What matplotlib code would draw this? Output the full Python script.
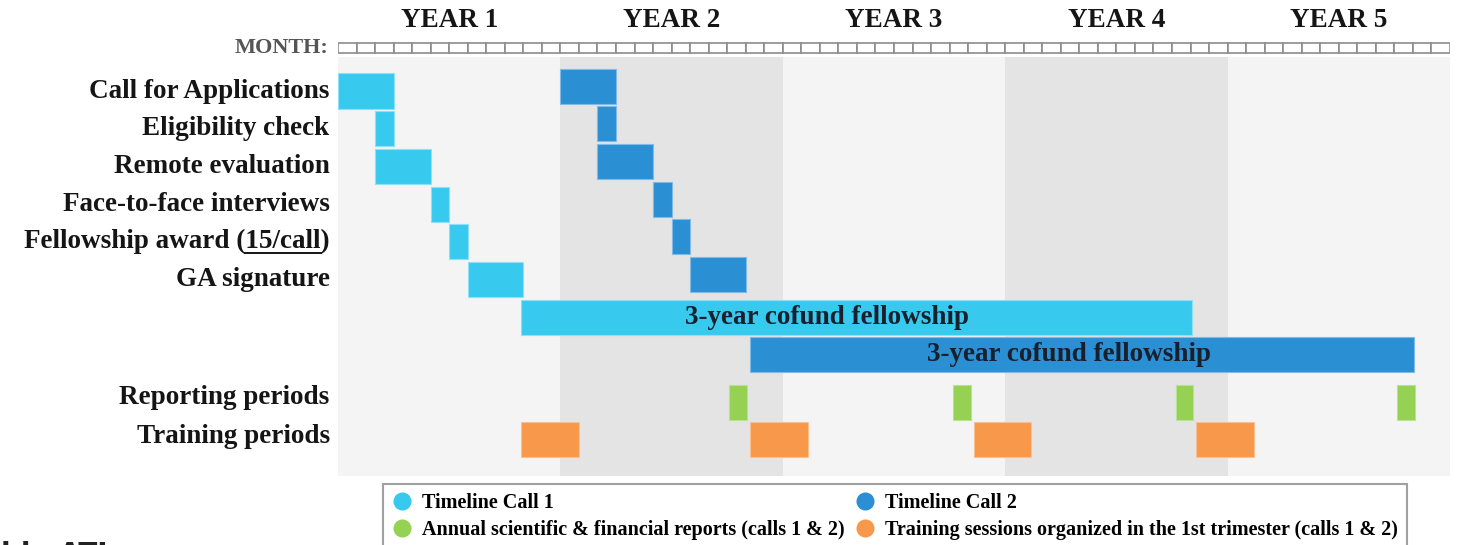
import numpy as np
import matplotlib.pyplot as plt
from matplotlib.patches import Rectangle
from matplotlib.lines import Line2D

# Daten (Monate ab Projektstart)
tasks = ["Call for Applications", "Eligibility check", "Remote evaluation",
         "Face-to-face interviews", "Fellowship award (15/call)", "GA signature"]
call1_start = [0, 2, 2, 5, 6, 7]
call1_dur = [3, 1, 3, 1, 1, 3]
call2_start = [12, 14, 14, 17, 18, 19]
call2_dur = [3, 1, 3, 1, 1, 3]

fellow_start = [9.9, 22.25]
fellow_dur = [36.2, 35.8]
fellow_text = "3-year cofund fellowship"

report_start = [21.1, 33.2, 45.2, 57.15]
report_dur = [0.95, 0.95, 0.95, 0.95]
training_start = [9.9, 22.25, 34.3, 46.3]
training_dur = [3.1, 3.1, 3.1, 3.1]

years = ["YEAR 1", "YEAR 2", "YEAR 3", "YEAR 4", "YEAR 5"]
n_months = 60

legend_labels = ["Timeline Call 1", "Annual scientific & financial reports (calls 1 & 2)",
                 "Timeline Call 2", "Training sessions organized in the 1st trimester (calls 1 & 2)"]

c1 = "#38c9ef"
c2 = "#2b8fd4"
cg = "#95d152"
co = "#f7984a"

plt.rcParams['font.family'] = ['Liberation Serif', 'DejaVu Serif']
plt.rcParams['font.weight'] = 'bold'

fs_lab = 19.5  # Schriftgroesse Zeilenbeschriftung

fig = plt.figure(figsize=(14.63, 5.45), dpi=100)
ax = fig.add_axes([338/1463, 1-480/545, 1112/1463, 480/545])
ax.set_xlim(0, n_months)
ax.set_ylim(10.318, -2.414)
ax.axis('off')

# Hintergrund pro Jahr
for i in range(5):
    ax.add_patch(Rectangle((12*i, -0.90), 12, 11.11,
                           fc="#e4e4e4" if i % 2 else "#f4f4f4", ec='none', zorder=0))
    ax.text(12*i + 6, -1.88, years[i], ha='center', va='center', fontsize=19.5,
            fontweight='bold', color='#151515')

# Monatskaestchen
for m in range(n_months):
    ax.add_patch(Rectangle((m, -1.27), 1, 0.27, fc='white', ec='#8c8c8c', lw=1.2, zorder=1))
ax.text(-0.5, -1.13, "MONTH:", ha='right', va='center', fontsize=16,
        fontweight='bold', color='#555555')

h = 0.93
off2 = -0.13
for k in range(len(tasks)):
    ax.barh(k, call1_dur[k], left=call1_start[k], height=h, color=c1,
            edgecolor='#8fe0f6', linewidth=0.8, zorder=2)
    ax.barh(k + off2, call2_dur[k], left=call2_start[k], height=h, color=c2,
            edgecolor='#7fbbe6', linewidth=0.8, zorder=2)
    ax.text(-0.45, k, tasks[k], ha='right', va='center', fontsize=fs_lab,
            fontweight='bold', color='#151515')

# Stipendien
for j, col in enumerate([c1, c2]):
    y = 6 + j
    ax.barh(y, fellow_dur[j], left=fellow_start[j], height=h, color=col,
            edgecolor='#8fe0f6' if j == 0 else '#7fbbe6', linewidth=0.8, zorder=2)
    ax.text(fellow_start[j] + fellow_dur[j]*0.455 + j*0.9, y, fellow_text, ha='center', va='center',
            fontsize=19.5, fontweight='bold', color='#17202c', zorder=3)

y_rep = 8.27
y_tr = 9.25
ax.barh([y_rep]*4, report_dur, left=report_start, height=h, color=cg,
        edgecolor='#b8e394', linewidth=0.8, zorder=2)
ax.barh([y_tr]*4, training_dur, left=training_start, height=h, color=co,
        edgecolor='#fbc090', linewidth=0.8, zorder=2)
ax.text(-0.45, y_rep - 0.13, "Reporting periods", ha='right', va='center', fontsize=fs_lab,
        fontweight='bold', color='#151515')
ax.text(-0.45, y_tr - 0.08, "Training periods", ha='right', va='center', fontsize=fs_lab,
        fontweight='bold', color='#151515')

# Unterstreichung "15/call"
fig.canvas.draw()
r = fig.canvas.get_renderer()
def tw(s):
    t = ax.text(0, 0, s, fontsize=fs_lab, fontweight='bold')
    w = t.get_window_extent(r).width
    t.remove()
    return w
x_right = ax.transData.transform((-0.45, 0))[0]
x1 = x_right - tw(")")
x0 = x_right - tw("15/call)")
inv = ax.transData.inverted()
xa = inv.transform((x0, 0))[0]
xb = inv.transform((x1, 0))[0]
ax.plot([xa, xb], [4.31, 4.31], color='#151515', lw=1.4, clip_on=False)

# Legende
handles = [Line2D([], [], ls='none', marker='o', ms=13, mfc=c, mec='none')
           for c in [c1, cg, c2, co]]
leg = fig.legend(handles, legend_labels, loc='upper left',
                 bbox_to_anchor=(383/1463, 1-484/545), ncol=2, frameon=True,
                 fancybox=False, edgecolor='#888888', borderaxespad=0,
                 prop={'family': 'Liberation Serif', 'weight': 'bold', 'size': 14.5},
                 handletextpad=0.5, columnspacing=0.5, labelspacing=0.35,
                 borderpad=0.45, handlelength=1.0)
leg.get_frame().set_linewidth(1.5)

fig.text(0.001, 1-541/545, "ble ATI", ha='left', va='top', fontsize=20,
         fontweight='bold', family='DejaVu Sans', color='#222222')

fig.savefig("out.png", dpi=100)
